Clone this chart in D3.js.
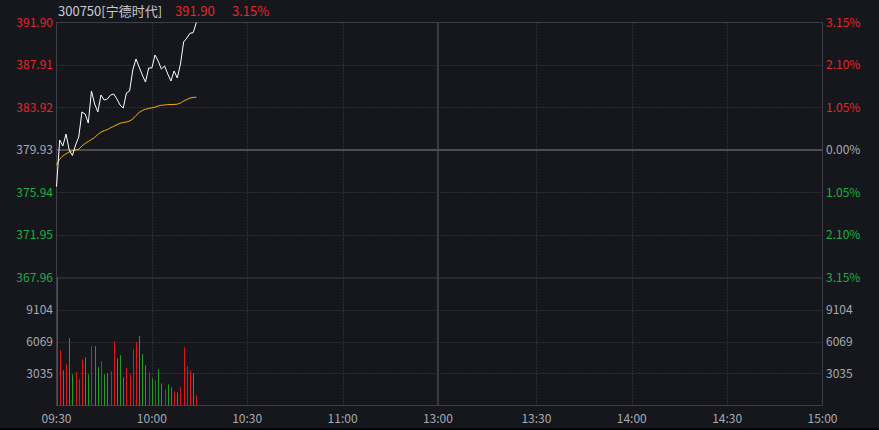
<!DOCTYPE html>
<html><head><meta charset="utf-8">
<script src="https://cdn.jsdelivr.net/npm/d3@7/dist/d3.min.js"></script>
<style>
html,body{margin:0;padding:0;background:#15171c;}
svg{display:block;}
text{font-family:"Noto Sans CJK SC","Liberation Sans",Arial,sans-serif;}
</style></head><body>
<svg id="c" width="879" height="430"></svg>
<script>
// ---- data ----
const stockTitle = "300750[宁德时代]";
const lastPrice = "391.90";
const lastPct = "3.15%";
const preClose = 379.93;
const priceTicks = [391.90, 387.91, 383.92, 379.93, 375.94, 371.95, 367.96];
const volTicks = [9104, 6069, 3035];
const volMax = 12139;
const timeLabels = ["09:30","10:00","10:30","11:00","13:00","13:30","14:00","14:30","15:00"];
const timeTickIndex = [0,30,60,90,120,151,181,211,241];
const prices = [376.49,380.87,380.31,381.43,379.93,379.41,380.40,381.15,383.50,383.31,
  382.46,385.47,384.25,383.50,385.09,384.62,384.72,385.09,385.19,384.72,
  384.15,383.87,385.28,385.47,387.44,388.47,387.72,386.97,386.31,387.63,
  387.63,388.85,388.28,387.53,387.82,387.07,386.41,387.35,386.69,388.00,
  390.07,390.44,390.89,390.94,391.90];
const avgPrices = [378.52,379.09,379.37,379.58,379.74,379.88,379.93,380.00,380.31,380.54,
  380.73,380.92,381.10,381.39,381.62,381.74,381.85,382.02,382.15,382.30,
  382.44,382.51,382.56,382.65,382.84,383.17,383.45,383.64,383.76,383.83,
  383.89,383.95,384.06,384.13,384.16,384.19,384.20,384.21,384.23,384.34,
  384.53,384.67,384.81,384.86,384.89];
const volumes = [13500,5242,3336,3908,6386,2955,3145,2478,4384,4575,
  2955,5623,5623,3622,4194,2955,3050,3241,6100,4480,
  4766,2669,3527,2955,5337,6005,6608,4861,3812,3145,
  2573,2383,3431,2097,1525,2002,1716,1334,1239,1716,
  5528,3717,3336,3050,953];
const volUp = [1,1,0,1,0,0,1,1,1,0,
  0,1,0,0,1,0,0,1,1,0,
  0,0,1,1,1,1,0,0,0,1,
  0,1,0,0,1,0,0,1,0,1,
  1,1,1,0,1];

// ---- layout ----
const L = 56.5, R = 822.5, T = 22.5, MID = 277.5, B = 405.5;
const svg = d3.select("#c");
const C = {bg:"#15171c", grid:"#44474d", frame:"#3e4047", txt:"#a7abb2", red:"#e5262b", green:"#1fae45",
  white:"#ffffff", avg:"#f5b400", title:"#c9cdd3", volRed:"#e01616", volGreen:"#1f9e1f"};

const x = d3.scaleLinear().domain([0,241]).range([L,R]);
const y = d3.scaleLinear().domain([priceTicks[6], priceTicks[0]]).range([MID, T]);
const yv = d3.scaleLinear().domain([0, volMax]).range([B, MID]).clamp(true);

svg.append("rect").attr("width",879).attr("height",430).attr("fill",C.bg);
svg.append("rect").attr("x",0).attr("y",428).attr("width",879).attr("height",2).attr("fill","#050607");

// grid
const g = svg.append("g");
priceTicks.forEach((p,i)=>{
  const yy = Math.round(y(p))+0.5;
  if (i===0 || i===6) return;
  if (p===preClose) return;
  g.append("line").attr("x1",L).attr("x2",R).attr("y1",yy).attr("y2",yy)
    .attr("stroke",C.grid).attr("stroke-dasharray","1,2");
});
volTicks.forEach(v=>{
  const yy = Math.round(yv(v))+0.5;
  g.append("line").attr("x1",L).attr("x2",R).attr("y1",yy).attr("y2",yy)
    .attr("stroke",C.grid).attr("stroke-dasharray","1,2");
});
timeTickIndex.forEach((m,i)=>{
  if (i===0 || i===timeTickIndex.length-1) return;
  const xx = Math.round(x(m))+0.5;
  if (i===4) {
    g.append("line").attr("x1",x(m)).attr("x2",x(m)).attr("y1",T).attr("y2",B).attr("stroke","#3a3c41").attr("stroke-width",2);
  } else {
    g.append("line").attr("x1",xx).attr("x2",xx).attr("y1",T).attr("y2",B)
      .attr("stroke",C.grid).attr("stroke-dasharray","1,2");
  }
});
// preclose line
g.append("line").attr("x1",L).attr("x2",R).attr("y1",y(preClose)).attr("y2",y(preClose))
  .attr("stroke","#4b4d53").attr("stroke-width",2);
// frame
g.append("rect").attr("x",L).attr("y",T).attr("width",R-L).attr("height",B-T)
  .attr("fill","none").attr("stroke",C.frame);
g.append("line").attr("x1",L).attr("x2",R).attr("y1",MID+0.5).attr("y2",MID+0.5).attr("stroke",C.frame);

// labels
const fs = 12;
priceTicks.forEach(p=>{
  const col = p>preClose+0.001?C.red:(p<preClose-0.001?C.green:C.txt);
  svg.append("text").attr("x",53).attr("y",y(p)).attr("dy","0.36em").attr("text-anchor","end")
    .attr("font-size",fs).attr("fill",col).text(p.toFixed(2));
  const pct = Math.abs((p-preClose)/preClose*100).toFixed(2)+"%";
  svg.append("text").attr("x",826).attr("y",y(p)).attr("dy","0.36em")
    .attr("font-size",fs).attr("fill",col).text(pct);
});
volTicks.forEach(v=>{
  svg.append("text").attr("x",53).attr("y",yv(v)).attr("dy","0.36em").attr("text-anchor","end")
    .attr("font-size",fs).attr("fill",C.txt).text(v);
  svg.append("text").attr("x",826).attr("y",yv(v)).attr("dy","0.36em")
    .attr("font-size",fs).attr("fill",C.txt).text(v);
});
timeTickIndex.forEach((m,i)=>{
  svg.append("text").attr("x",x(m)).attr("y",419).attr("dy","0.36em").attr("text-anchor","middle")
    .attr("font-size",fs).attr("fill",C.txt).text(timeLabels[i]);
});

// title
svg.append("text").attr("x",58).attr("y",11).attr("dy","0.36em").attr("font-size",13).attr("fill",C.title).text(stockTitle);
svg.append("text").attr("x",175).attr("y",11).attr("dy","0.36em").attr("font-size",13).attr("fill",C.red).text(lastPrice);
svg.append("text").attr("x",232).attr("y",11).attr("dy","0.36em").attr("font-size",13).attr("fill",C.red).text(lastPct);

// volumes
svg.append("g").selectAll("line").data(volumes).join("line")
  .attr("x1",(d,i)=>Math.round(x(i))+0.5).attr("x2",(d,i)=>Math.round(x(i))+0.5)
  .attr("y1",B).attr("y2",d=>yv(d))
  .attr("stroke",(d,i)=>volUp[i]?C.volRed:C.volGreen).attr("stroke-width",1);

// lines
const line = d3.line().x((d,i)=>x(i)).y(d=>y(d));
svg.append("path").attr("d",line(avgPrices)).attr("fill","none").attr("stroke",C.avg).attr("stroke-width",1);
svg.append("path").attr("d",line(prices)).attr("fill","none").attr("stroke",C.white).attr("stroke-width",1);
</script>
</body></html>
